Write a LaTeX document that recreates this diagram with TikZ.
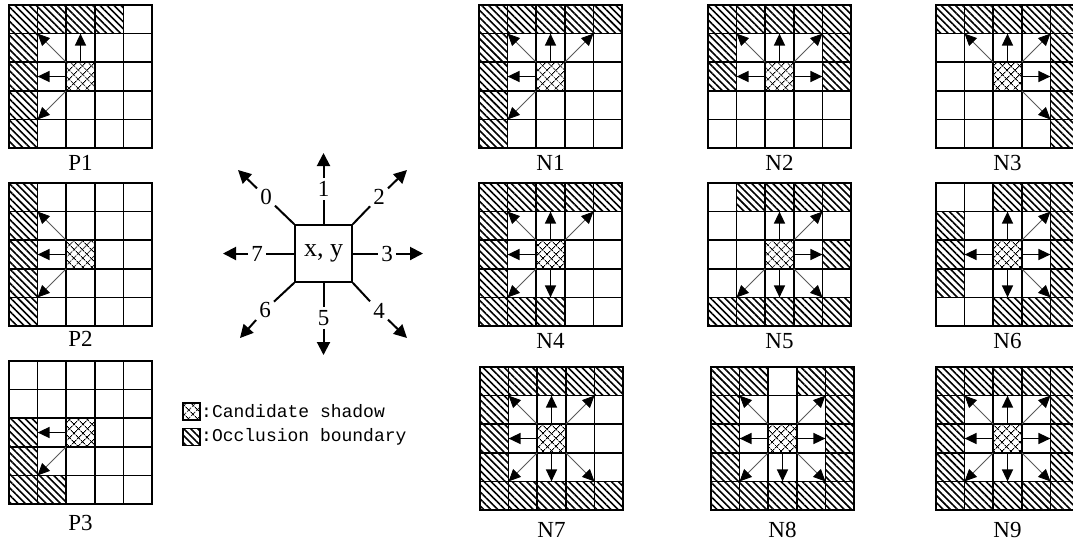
\documentclass[tikz,border=0pt]{standalone}
\usepackage{fontspec}
\setmainfont{Liberation Serif}
\newfontfamily\legfont{Liberation Mono}
\usetikzlibrary{arrows.meta,patterns.meta}

\tikzset{
  gline/.style={line width=1.6pt, line cap=rect},
  occl/.style={pattern={Lines[angle=-45,distance=5pt,line width=1.6pt]}},
  candA/.style={pattern={Lines[angle=45,distance=6.5pt,line width=0.9pt]}},
  candB/.style={pattern={Lines[angle=-45,distance=6.5pt,line width=0.9pt]}},
  orth/.style={line width=1.5pt,-{Triangle[length=12pt,width=11pt]}},
  diag/.style={line width=0.8pt, draw=black!65,-{Triangle[length=12pt,width=11pt,color=black]}},
  lab/.style={font=\fontsize{23}{23}\selectfont, inner sep=0pt},
  dirlab/.style={font=\fontsize{23}{23}\selectfont, inner sep=3pt},
  bigarr/.style={line width=2pt,-{Triangle[length=13pt,width=13pt]}},
  spoke/.style={line width=2pt},
  legtext/.style={font=\legfont\fontsize{18}{18}\selectfont, anchor=west, inner sep=0pt},
}

\newcommand\adir[1]{%
  \ifcase#1
    \draw[diag] (2,2)--(1,1);%
  \or \draw[orth] (2.5,2)--(2.5,1);%
  \or \draw[diag] (3,2)--(4,1);%
  \or \draw[orth] (3,2.5)--(4,2.5);%
  \or \draw[diag] (3,3)--(4,4);%
  \or \draw[orth] (2.5,3)--(2.5,4);%
  \or \draw[diag] (2,3)--(1,4);%
  \or \draw[orth] (2,2.5)--(1,2.5);%
  \fi}

% #1 x, #2 y, #3 label, #4 label y, #5 hatched cells r/c, #6 arrow directions
\newcommand\ggrid[6]{%
  \begin{scope}[shift={(#1,#2)}, x=28.6pt, y=-28.6pt]
    \foreach \r/\c in {#5} \fill[occl] (\c,\r) rectangle ++(1,1);
    \fill[candA] (2,2) rectangle (3,3);
    \fill[candB] (2,2) rectangle (3,3);
    \foreach \i in {0,...,5} {\draw[gline] (\i,0)--(\i,5); \draw[gline] (0,\i)--(5,\i);}
    \foreach \d in {#6} {\adir{\d}}
  \end{scope}
  \node[lab] (lab#3) at (#1+71.5,#4) {#3};
}

\begin{document}
\begin{tikzpicture}[x=1pt,y=-1pt]
\useasboundingbox (0,0) rectangle (1073,542);
\clip (0,0) rectangle (1073,542);

% left column
\ggrid{9}{5}{P1}{163}{0/0,0/1,0/2,0/3,1/0,2/0,3/0,4/0}{0,1,7,6}
\ggrid{9}{183}{P2}{339}{0/0,1/0,2/0,3/0,4/0}{0,7,6}
\ggrid{9}{361}{P3}{523}{2/0,3/0,4/0,4/1}{7,6}

% N grids
\ggrid{479}{5}{N1}{163}{0/0,0/1,0/2,0/3,0/4,1/0,2/0,3/0,4/0}{0,1,2,7,6}
\ggrid{708}{5}{N2}{163}{0/0,0/1,0/2,0/3,0/4,1/0,2/0,1/4,2/4}{0,1,2,7,3}
\ggrid{936}{5}{N3}{163}{0/0,0/1,0/2,0/3,0/4,1/4,2/4,3/4,4/4}{0,1,2,3,4}

\ggrid{479}{183}{N4}{341}{0/0,0/1,0/2,0/3,0/4,1/0,2/0,3/0,4/0,4/1,4/2}{0,1,2,7,6,5}
\ggrid{708}{183}{N5}{341}{0/1,0/2,0/3,0/4,2/4,4/0,4/1,4/2,4/3,4/4}{1,2,3,4,5,6}
\ggrid{936}{183}{N6}{341}{0/2,0/3,0/4,1/0,2/0,3/0,1/4,2/4,3/4,4/2,4/3,4/4}{1,2,3,4,5,7}

\ggrid{480}{367}{N7}{530}{0/0,0/1,0/2,0/3,0/4,1/0,2/0,3/0,4/0,4/1,4/2,4/3,4/4}{0,1,2,7,6,5,4}
\ggrid{711}{367}{N8}{530}{0/0,0/1,0/3,0/4,1/0,2/0,3/0,1/4,2/4,3/4,4/0,4/1,4/2,4/3,4/4}{0,2,3,4,5,6,7}
\ggrid{936}{367}{N9}{530}{0/0,0/1,0/2,0/3,0/4,1/0,2/0,3/0,1/4,2/4,3/4,4/0,4/1,4/2,4/3,4/4}{0,1,2,3,4,5,6,7}

% central direction diagram
\node[draw, line width=1.7pt, minimum size=57pt, inner sep=0pt, font=\fontsize{26}{26}\selectfont] (xy) at (323.5,253.5) {x, y};
\node[dirlab] (d0) at (266,197) {0};
\node[dirlab] (d1) at (323.5,189) {1};
\node[dirlab] (d2) at (379,197) {2};
\node[dirlab] (d3) at (387,253.5) {3};
\node[dirlab] (d4) at (379,311) {4};
\node[dirlab] (d5) at (323.5,318) {5};
\node[dirlab] (d6) at (265,310) {6};
\node[dirlab] (d7) at (257,253.5) {7};
\coordinate (t0) at (238,170);
\coordinate (t1) at (323.5,153);
\coordinate (t2) at (407,170);
\coordinate (t3) at (423,253.5);
\coordinate (t4) at (407,338);
\coordinate (t5) at (323.5,355);
\coordinate (t6) at (240,338);
\coordinate (t7) at (223,253.5);
\draw[spoke] (xy.north west) -- (d0);
\draw[spoke] (xy.north) -- (d1);
\draw[spoke] (xy.north east) -- (d2);
\draw[spoke] (xy.east) -- (d3);
\draw[spoke] (xy.south east) -- (d4);
\draw[spoke] (xy.south) -- (d5);
\draw[spoke] (xy.south west) -- (d6);
\draw[spoke] (xy.west) -- (d7);
\foreach \k in {0,...,7} \draw[bigarr] (d\k) -- (t\k);

% legend
\node[draw, line width=1.2pt, minimum size=17pt, inner sep=0pt,
  path picture={\fill[candA] (path picture bounding box.south west) rectangle (path picture bounding box.north east);
                \fill[candB] (path picture bounding box.south west) rectangle (path picture bounding box.north east);}]
  (legc) at (191.5,411.5) {};
\node[draw, line width=1.2pt, minimum size=17pt, inner sep=0pt,
  path picture={\fill[occl] (path picture bounding box.south west) rectangle (path picture bounding box.north east);}]
  (lego) at (191.5,437) {};
\node[legtext] (legct) at (201,411.5) {:Candidate shadow};
\node[legtext] (legot) at (201,437) {:Occlusion boundary};
\end{tikzpicture}
\end{document}
